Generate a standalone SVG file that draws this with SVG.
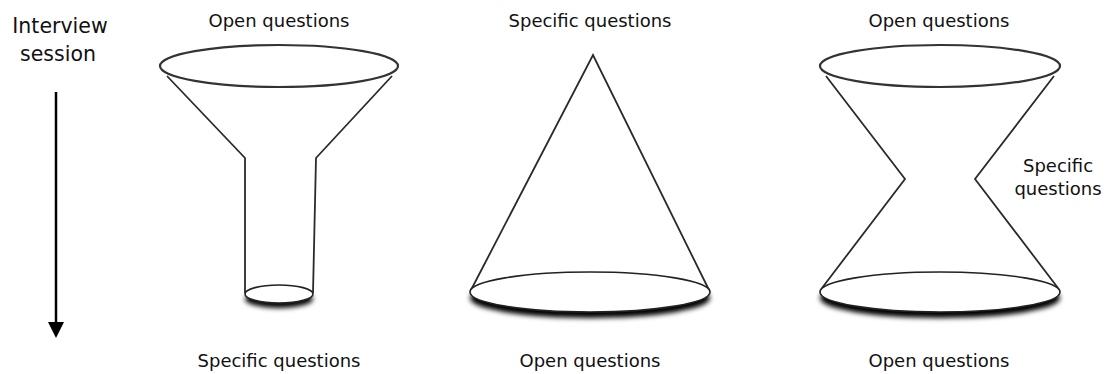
<svg xmlns="http://www.w3.org/2000/svg" width="1107" height="374" viewBox="0 0 1107 374">
<defs>
<style>
text{font-family:"DejaVu Sans","Liberation Sans",sans-serif;font-size:18px;fill:#111;text-anchor:middle}
.big{font-size:20.5px}
.ln{fill:none;stroke:#2a2a2a;stroke-width:1.8;stroke-linejoin:miter}
.top{fill:#fff;stroke:#333;stroke-width:2.2}
.bot{fill:#fff;stroke:#222;stroke-width:1.6}
.sh{fill:#000}
</style>
<filter id="blur" x="-20%" y="-50%" width="140%" height="200%"><feGaussianBlur stdDeviation="2.5"/></filter>
</defs>
<g id="axis">
<text class="big" x="60" y="33">Interview</text>
<text class="big" x="58" y="61">session</text>
</g>
<g id="connectors">
<line x1="56" y1="92" x2="56" y2="322" stroke="#000" stroke-width="2.5"/>
<path d="M48,322 L64,322 L56,338 Z" fill="#000"/>
</g>
<g id="funnel">
<text x="279" y="27">Open questions</text>
<path class="ln" d="M167,76 L245,158 L245,293"/>
<path class="ln" d="M392,76 L316,158 L313,293"/>
<ellipse class="sh" cx="279" cy="299" rx="34" ry="9" filter="url(#blur)"/>
<ellipse class="bot" cx="279" cy="294" rx="34" ry="9"/>
<ellipse class="top" cx="279" cy="66" rx="119" ry="21"/>
<text x="279" y="367">Specific questions</text>
</g>
<g id="cone">
<text x="590" y="27">Specific questions</text>
<path class="ln" d="M471,290 L593,55 L709,290"/>
<ellipse class="sh" cx="590" cy="298" rx="120" ry="20" filter="url(#blur)"/>
<ellipse class="bot" cx="590" cy="292" rx="120" ry="20"/>
<text x="590" y="367">Open questions</text>
</g>
<g id="hourglass">
<text x="939" y="27">Open questions</text>
<path class="ln" d="M826,76 L905,179 L822,288"/>
<path class="ln" d="M1054,76 L975,179 L1058,288"/>
<ellipse class="sh" cx="940" cy="298" rx="120" ry="20" filter="url(#blur)"/>
<ellipse class="bot" cx="940" cy="292" rx="120" ry="20"/>
<ellipse class="top" cx="940" cy="66" rx="120" ry="21"/>
<text x="1058" y="172">Specific</text>
<text x="1058" y="195">questions</text>
<text x="939" y="367">Open questions</text>
</g>
</svg>
